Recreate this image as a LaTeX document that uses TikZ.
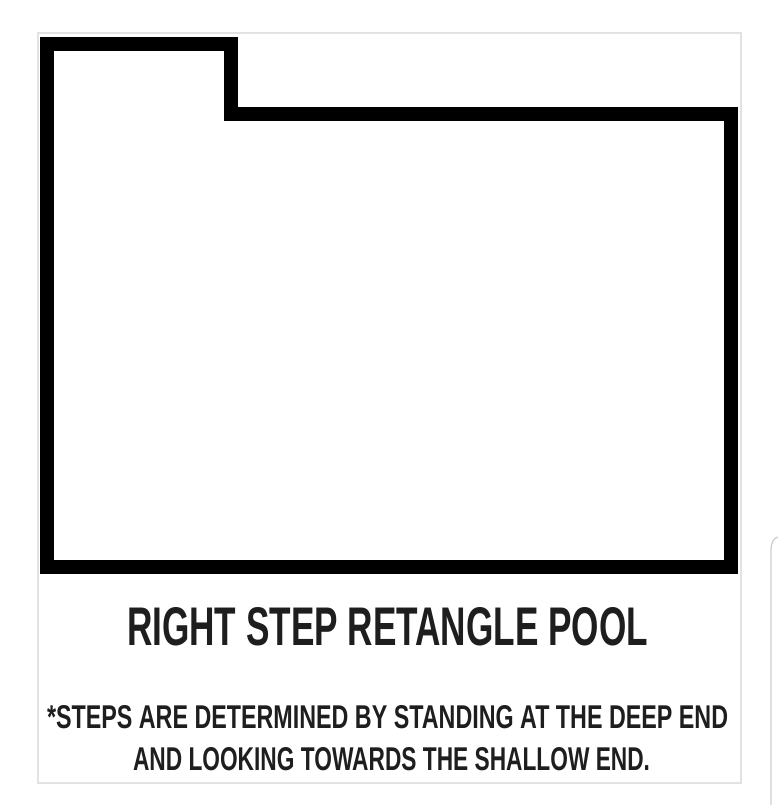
\documentclass[tikz,border=0pt]{standalone}
\usepackage{fontspec}
\setmainfont{Liberation Sans}
\usepackage{graphicx}
\definecolor{frameGrey}{HTML}{E2E2E2}
\definecolor{uiGrey}{HTML}{CFCFCF}
\definecolor{inkText}{HTML}{1E1E1E}
\tikzset{
  poolwall/.style={draw=black, line width=14pt, line join=miter},
  photoframe/.style={draw=frameGrey, line width=1.5pt},
  uiedge/.style={draw=uiGrey, line width=1.3pt},
  label/.style={inner sep=0pt, outer sep=0pt, text=inkText, font=\bfseries}
}
\begin{document}
\begin{tikzpicture}[x=1pt, y=-1pt]
  \useasboundingbox (0,0) rectangle (778,805);
  \fill[white] (0,0) rectangle (778,805);
  % photo frame
  \draw[photoframe] (38,33) rectangle (741,783);
  % UI edge at the right
  \draw[uiedge] (771,805) -- (771,550) .. controls (771,542) and (774,538) .. (778,537);
  % pool outline
  \draw[poolwall] (47,566.5) -- (47,44) -- (230.5,44) -- (230.5,114) -- (730.5,114) -- (730.5,566.5) -- cycle;
  % texts
  \node[label, anchor=north west] (title) at (127,607)
    {\resizebox{521pt}{38pt}{RIGHT STEP RETANGLE POOL}};
  \node[label, anchor=north west] (noteA) at (47,705)
    {\resizebox{681pt}{23pt}{*STEPS ARE DETERMINED BY STANDING AT THE DEEP END}};
  \node[label, anchor=north west] (noteB) at (133,747)
    {\resizebox{517pt}{23pt}{AND LOOKING TOWARDS THE SHALLOW END.}};
\end{tikzpicture}
\end{document}
